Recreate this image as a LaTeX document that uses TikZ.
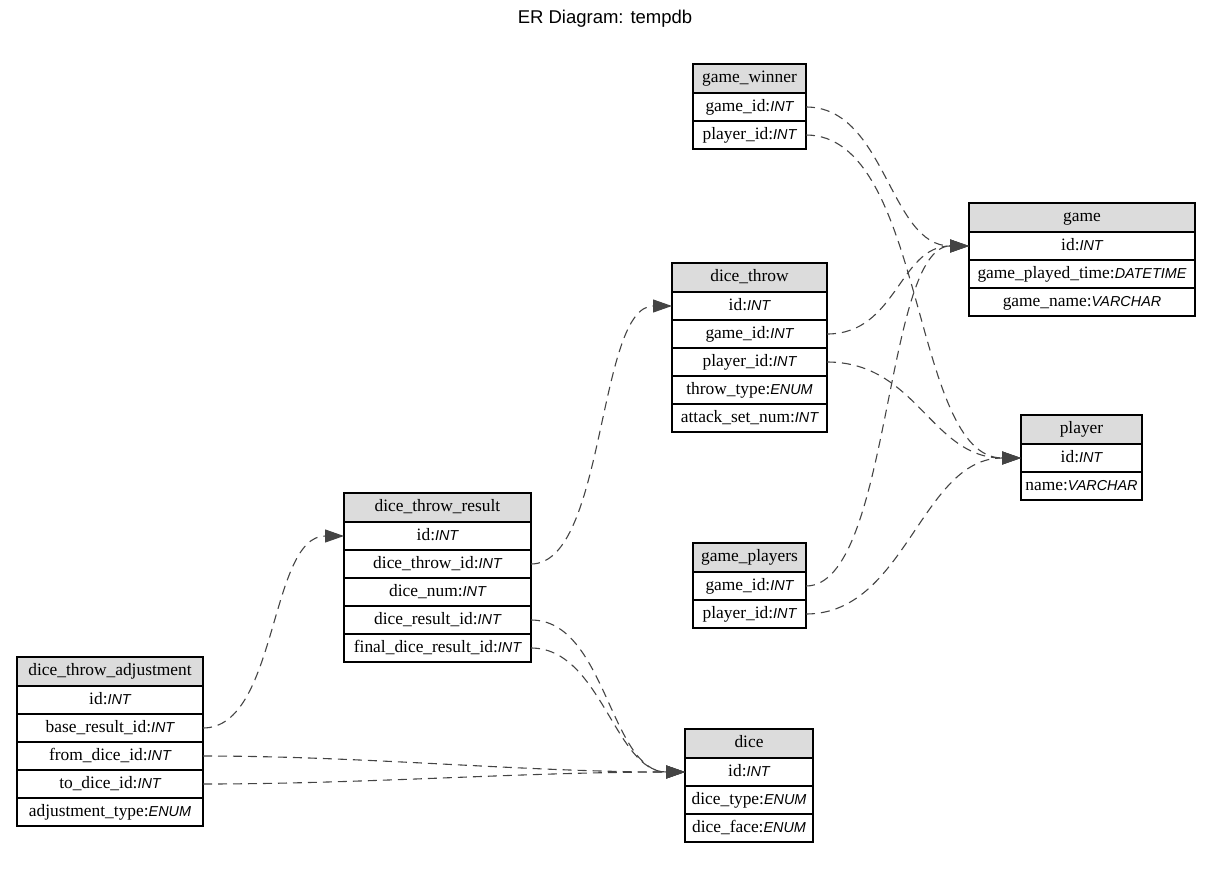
\documentclass[tikz,border=0pt]{standalone}
\usepackage{fontspec}
\setmainfont{Liberation Serif}
\newfontfamily\titlefont{Liberation Sans}
\newfontfamily\typefont{Liberation Sans}[UprightFont=* Italic]
\usetikzlibrary{arrows.meta}
\definecolor{hdrgray}{RGB}{220,220,220}
\definecolor{linkgray}{RGB}{68,68,68}
\newcommand{\ty}[1]{{\typefont\fontsize{14.4}{16}\selectfont #1}}
\tikzset{
  cell/.style={draw=black, line width=1.2pt, inner sep=0pt, outer sep=0pt,
    minimum height=28pt, text height=12pt, text depth=3.5pt,
    font=\fontsize{17.4}{19}\selectfont},
  hdr/.style={cell, fill=hdrgray, minimum height=29pt},
  fld/.style={cell, fill=white},
  fk/.style={draw=linkgray, line width=1.1pt, dash pattern=on 9pt off 6pt,
    -{Triangle[length=19pt,width=13pt,fill=linkgray]}},
}
\begin{document}
\begin{tikzpicture}[x=1pt,y=-1pt]
\useasboundingbox (0,0) rectangle (1211,881);

\node[font=\titlefont\fontsize{18.5}{20}\selectfont] (title) at (605,19) {ER Diagram: tempdb};

% game_winner
\node[hdr, minimum width=113pt] (gw) at (749.5,78.5) {game\_winner};
\node[fld, minimum width=113pt] (gw-gid) at (749.5,107) {game\_id:\ty{INT}};
\node[fld, minimum width=113pt] (gw-pid) at (749.5,135) {player\_id:\ty{INT}};

% game
\node[hdr, minimum width=226pt] (g) at (1082,217.5) {game};
\node[fld, minimum width=226pt] (g-id) at (1082,246) {id:\ty{INT}};
\node[fld, minimum width=226pt] (g-time) at (1082,274) {game\_played\_time:\ty{DATETIME}};
\node[fld, minimum width=226pt] (g-name) at (1082,302) {game\_name:\ty{VARCHAR}};

% dice_throw
\node[hdr, minimum width=155pt] (dt) at (749.5,277.5) {dice\_throw};
\node[fld, minimum width=155pt] (dt-id) at (749.5,306) {id:\ty{INT}};
\node[fld, minimum width=155pt] (dt-gid) at (749.5,334) {game\_id:\ty{INT}};
\node[fld, minimum width=155pt] (dt-pid) at (749.5,362) {player\_id:\ty{INT}};
\node[fld, minimum width=155pt] (dt-type) at (749.5,390) {throw\_type:\ty{ENUM}};
\node[fld, minimum width=155pt] (dt-set) at (749.5,418) {attack\_set\_num:\ty{INT}};

% player
\node[hdr, minimum width=121pt] (p) at (1081.5,429.5) {player};
\node[fld, minimum width=121pt] (p-id) at (1081.5,458) {id:\ty{INT}};
\node[fld, minimum width=121pt] (p-name) at (1081.5,486) {name:\ty{VARCHAR}};

% dice_throw_result
\node[hdr, minimum width=187pt] (dtr) at (437.5,507.5) {dice\_throw\_result};
\node[fld, minimum width=187pt] (dtr-id) at (437.5,536) {id:\ty{INT}};
\node[fld, minimum width=187pt] (dtr-dtid) at (437.5,564) {dice\_throw\_id:\ty{INT}};
\node[fld, minimum width=187pt] (dtr-num) at (437.5,592) {dice\_num:\ty{INT}};
\node[fld, minimum width=187pt] (dtr-res) at (437.5,620) {dice\_result\_id:\ty{INT}};
\node[fld, minimum width=187pt] (dtr-fin) at (437.5,648) {final\_dice\_result\_id:\ty{INT}};

% game_players
\node[hdr, minimum width=113pt] (gp) at (749.5,557.5) {game\_players};
\node[fld, minimum width=113pt] (gp-gid) at (749.5,586) {game\_id:\ty{INT}};
\node[fld, minimum width=113pt] (gp-pid) at (749.5,614) {player\_id:\ty{INT}};

% dice_throw_adjustment
\node[hdr, minimum width=186pt] (dta) at (110,671.5) {dice\_throw\_adjustment};
\node[fld, minimum width=186pt] (dta-id) at (110,700) {id:\ty{INT}};
\node[fld, minimum width=186pt] (dta-base) at (110,728) {base\_result\_id:\ty{INT}};
\node[fld, minimum width=186pt] (dta-from) at (110,756) {from\_dice\_id:\ty{INT}};
\node[fld, minimum width=186pt] (dta-to) at (110,784) {to\_dice\_id:\ty{INT}};
\node[fld, minimum width=186pt] (dta-type) at (110,812) {adjustment\_type:\ty{ENUM}};

% dice
\node[hdr, minimum width=128pt] (d) at (749,743.5) {dice};
\node[fld, minimum width=128pt] (d-id) at (749,772) {id:\ty{INT}};
\node[fld, minimum width=128pt] (d-type) at (749,800) {dice\_type:\ty{ENUM}};
\node[fld, minimum width=128pt] (d-face) at (749,828) {dice\_face:\ty{ENUM}};

% foreign keys
\draw[fk] (gw-gid.east) .. controls +(80,0) and +(-80,0) .. (g-id.west);
\draw[fk] (gw-pid.east) .. controls +(120,0) and +(-110,0) .. (p-id.west);
\draw[fk] (dt-gid.east) .. controls +(70,0) and +(-70,0) .. (g-id.west);
\draw[fk] (dt-pid.east) .. controls +(90,0) and +(-90,0) .. (p-id.west);
\draw[fk] (gp-gid.east) .. controls +(85,0) and +(-85,0) .. (g-id.west);
\draw[fk] (gp-pid.east) .. controls +(100,0) and +(-100,0) .. (p-id.west);
\draw[fk] (dtr-dtid.east) .. controls +(75,0) and +(-75,0) .. (dt-id.west);
\draw[fk] (dtr-res.east) .. controls +(75,0) and +(-75,0) .. (d-id.west);
\draw[fk] (dtr-fin.east) .. controls +(70,0) and +(-70,0) .. (d-id.west);
\draw[fk] (dta-base.east) .. controls +(75,0) and +(-75,0) .. (dtr-id.west);
\draw[fk] (dta-from.east) .. controls +(160,0) and +(-160,0) .. (d-id.west);
\draw[fk] (dta-to.east) .. controls +(160,0) and +(-160,0) .. (d-id.west);
\end{tikzpicture}
\end{document}
